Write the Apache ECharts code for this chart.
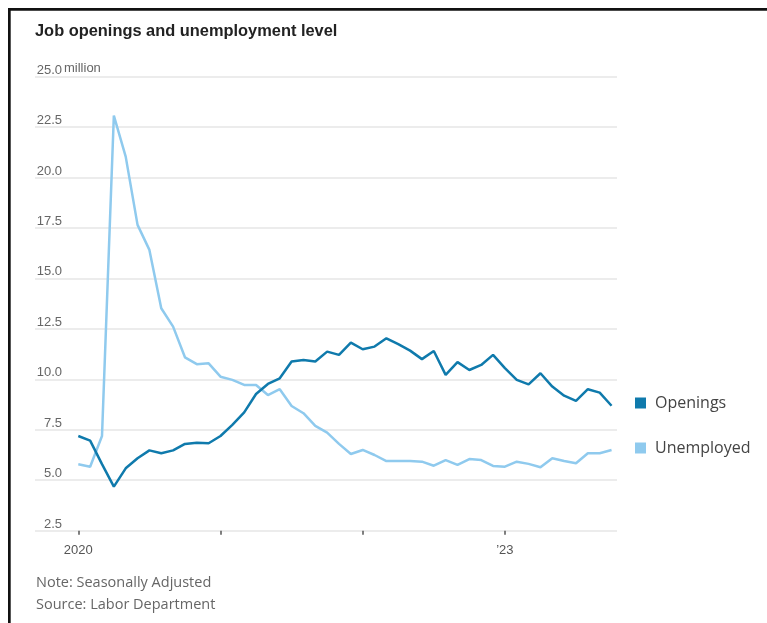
<!DOCTYPE html>
<html>
<head>
<meta charset="utf-8">
<script src="https://cdn.jsdelivr.net/npm/echarts@6/dist/echarts.min.js"></script>
<style>
html,body{margin:0;padding:0;background:#fff;}
#chart{width:767px;height:623px;}
</style>
</head>
<body>
<div id="chart"></div>
<script>
// Monthly, Jan 2020 .. Oct 2023 (millions)
var months = [
 'Jan 2020','Feb 2020','Mar 2020','Apr 2020','May 2020','Jun 2020','Jul 2020','Aug 2020','Sep 2020','Oct 2020','Nov 2020','Dec 2020',
 'Jan 2021','Feb 2021','Mar 2021','Apr 2021','May 2021','Jun 2021','Jul 2021','Aug 2021','Sep 2021','Oct 2021','Nov 2021','Dec 2021',
 'Jan 2022','Feb 2022','Mar 2022','Apr 2022','May 2022','Jun 2022','Jul 2022','Aug 2022','Sep 2022','Oct 2022','Nov 2022','Dec 2022',
 'Jan 2023','Feb 2023','Mar 2023','Apr 2023','May 2023','Jun 2023','Jul 2023','Aug 2023','Sep 2023','Oct 2023'
];
var openings = [
 7.19, 6.96, 5.80, 4.68, 5.59, 6.09, 6.48, 6.34, 6.48, 6.80, 6.86, 6.83,
 7.19, 7.74, 8.36, 9.27, 9.77, 10.05, 10.88, 10.96, 10.88, 11.37, 11.21, 11.82,
 11.49, 11.62, 12.03, 11.74, 11.42, 11.00, 11.40, 10.22, 10.85, 10.46, 10.71, 11.21,
 10.55, 9.97, 9.75, 10.30, 9.64, 9.19, 8.93, 9.51, 9.34, 8.69
];
var unemployed = [
 5.79, 5.67, 7.19, 23.06, 21.03, 17.65, 16.41, 13.52, 12.61, 11.09, 10.75, 10.79,
 10.13, 9.97, 9.72, 9.72, 9.22, 9.51, 8.68, 8.32, 7.69, 7.36, 6.80, 6.30,
 6.50, 6.25, 5.95, 5.95, 5.95, 5.92, 5.72, 6.00, 5.76, 6.05, 6.00, 5.71,
 5.67, 5.92, 5.81, 5.64, 6.09, 5.95, 5.84, 6.34, 6.34, 6.50
];
var seriesNames = ['Openings', 'Unemployed'];
var xTickMonths = [0, 12, 24, 36];          // indexes into months for ticks
var xLabelMonths = [0, 36];
var xLabelText = {0: '2020', 36: '\u201923'};
var yTicks = [2.5, 5.0, 7.5, 10.0, 12.5, 15.0, 17.5, 20.0, 22.5, 25.0];

function pairs(arr){ return arr.map(function(v,i){ return [i, v]; }); }

var chart = echarts.init(document.getElementById('chart'), null, {renderer:'canvas'});
var condensed = "'Liberation Sans', Arial, sans-serif";
var option = {
  animation: false,
  backgroundColor: '#fff',
  title: {
    text: 'Job openings and unemployment level',
    left: 35, top: 23, padding: 0,
    textStyle: {fontFamily: "'Liberation Sans', Arial, sans-serif", fontWeight: 'bold', fontSize: 16.4, color: '#222'}
  },
  grid: {left: 35, right: 150, top: 76.5, bottom: 92.3, containLabel: false},
  legend: {
    data: seriesNames,
    orient: 'vertical',
    left: 630, top: 390,
    itemWidth: 11, itemHeight: 11, itemGap: 29,
    icon: 'rect',
    textStyle: {fontFamily: "'Open Sans', sans-serif", fontSize: 16, color: '#444', lineHeight: 16, padding: [0,0,0,4]}
  },
  xAxis: {
    type: 'value',
    min: -3.654, max: 45.46,
    splitLine: {show: false},
    axisLine: {show: false},
    axisTick: {show: true, customValues: xTickMonths, length: 4, lineStyle: {color: '#555', width: 1.5}},
    axisLabel: {
      customValues: xLabelMonths,
      formatter: function(v){ return xLabelText[Math.round(v)] || ''; },
      margin: 13, fontSize: 13, color: '#555', fontFamily: condensed
    }
  },
  yAxis: {
    type: 'value',
    min: 2.5, max: 25, interval: 2.5,
    axisLine: {show: false},
    axisTick: {show: false},
    splitLine: {lineStyle: {color: '#ececec', width: 2}},
    axisLabel: {
      align: 'right', verticalAlign: 'bottom', margin: -27,
      fontSize: 13, color: '#666', fontFamily: condensed,
      formatter: function(v){ return v.toFixed(1); }
    }
  },
  graphic: [
    {type: 'text', left: 64, top: 62, style: {text: 'million', fontSize: 13, fill: '#666', fontFamily: condensed}},
    {type: 'text', left: 36, top: 575, style: {text: 'Note: Seasonally Adjusted', fontSize: 14.5, fill: '#666', fontFamily: "'Open Sans', sans-serif"}},
    {type: 'text', left: 36, top: 597, style: {text: 'Source: Labor Department', fontSize: 14.5, fill: '#666', fontFamily: "'Open Sans', sans-serif"}},
    {type: 'rect', shape: {x: 8, y: 8, width: 759, height: 2.7}, style: {fill: '#111'}},
    {type: 'rect', shape: {x: 8, y: 8, width: 2.7, height: 615}, style: {fill: '#111'}}
  ],
  series: [
    {name: seriesNames[0], type: 'line', data: pairs(openings), showSymbol: false, symbol: 'none',
     lineStyle: {color: '#0f7aac', width: 2.5}, itemStyle: {color: '#0f7aac'}, z: 3},
    {name: seriesNames[1], type: 'line', data: pairs(unemployed), showSymbol: false, symbol: 'none',
     lineStyle: {color: '#8fcaee', width: 2.5}, itemStyle: {color: '#8fcaee'}, z: 2}
  ]
};
chart.setOption(option);
</script>
</body>
</html>
